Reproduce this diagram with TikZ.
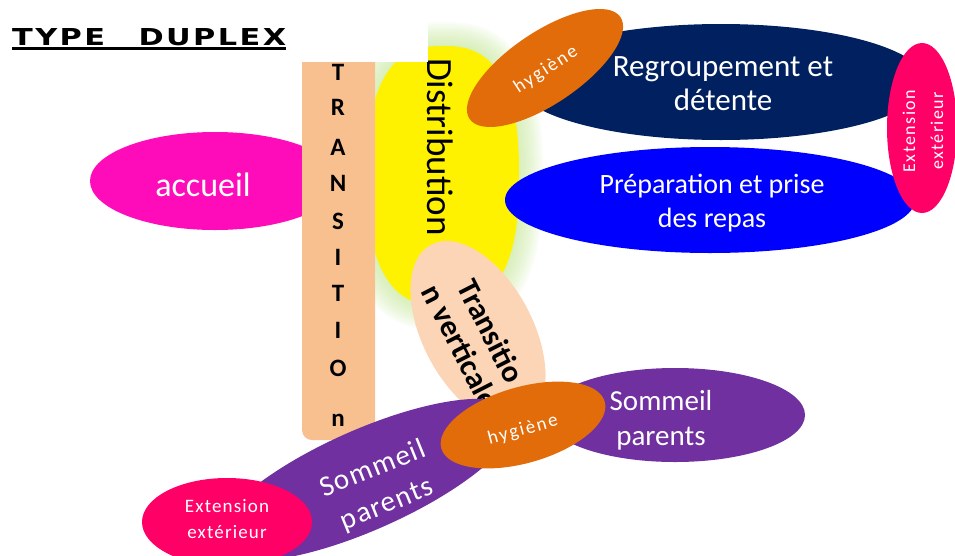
\documentclass[tikz,border=0pt]{standalone}
\usepackage{fontspec}
\setmainfont{Carlito}
\newfontfamily\titlefont{DejaVu Sans}
\usetikzlibrary{shapes.geometric}
\definecolor{peach}{RGB}{248,192,143}
\definecolor{peachlight}{RGB}{251,213,181}
\definecolor{glowgreen}{RGB}{196,230,150}
\definecolor{magentaA}{RGB}{255,12,186}
\definecolor{orangeH}{RGB}{227,108,10}
\definecolor{navyR}{RGB}{0,32,96}
\definecolor{blueP}{RGB}{0,0,255}
\definecolor{pinkE}{RGB}{255,0,102}
\definecolor{purpleS}{RGB}{112,48,160}
\tikzset{
  blob/.style={ellipse, inner sep=0pt, draw=none},
  wtext/.style={text=white, align=center, inner sep=0pt},
  btext/.style={text=black, align=center, inner sep=0pt},
}
\newcommand{\fsz}[2]{\fontsize{#1}{#2}\selectfont}
\begin{document}
\begin{tikzpicture}[x=1pt,y=-1pt]
\useasboundingbox (0,0) rectangle (955,555);
% glow around the distribution blob
\foreach \g in {24,22,...,2}{
  \fill[glowgreen, fill opacity=0.08] plot[domain=0.5:360.5, samples=101, variable=\t]
    ({443+(76+\g)*sign(cos(\t))*abs(cos(\t))^0.77},{176+(130+\g)*sign(sin(\t))*abs(sin(\t))^0.77}) -- cycle;
}
\fill[yellow] plot[domain=0.5:360.5, samples=101, variable=\t]
    ({443+76*sign(cos(\t))*abs(cos(\t))^0.77},{176+130*sign(sin(\t))*abs(sin(\t))^0.77}) -- cycle;

% accueil
\node[blob, fill=magentaA, minimum width=250, minimum height=98] (acc) at (215,181) {};
\node[wtext, font=\fsz{34}{34}] (acct) at (203,185) {accueil};

% transition bar
\node[fill=peach, rounded corners=10pt, minimum width=73, minimum height=390, inner sep=0pt] (trans) at (338.5,245) {};
\foreach \l/\yy [count=\i] in {T/72,R/107,A/147,N/183,S/221,I/257,T/293,I/330,O/368,n/420}{
  \node[btext, font=\bfseries\fsz{25}{25}] (tl\i) at (338,\yy) {\l};
}

% distribution
\node[btext, rotate=-90, anchor=base west, font=\fsz{37}{37}] (distr) at (427,58) {Distribution};

% transition verticale
\node[blob, fill=peachlight, minimum width=200, minimum height=110, rotate=-62] (tv) at (478,333) {};
\node[btext, rotate=-63, font=\bfseries\fsz{31}{34}] (tvt) at (476,339) {Transitio\\n verticale};

% regroupement
\node[blob, fill=navyR, minimum width=410, minimum height=116] (regr) at (721,82) {};
\node[wtext, font=\fsz{31}{34}] (regrt) at (723,84) {Regroupement et\\détente};

% preparation
\node[blob, fill=blueP, minimum width=410, minimum height=106] (prep) at (710,200) {};
\node[wtext, font=\fsz{28}{34}] (prept) at (712,203) {Préparation et prise\\des repas};

% hygiene top
\node[blob, fill=orangeH, minimum width=182, minimum height=72, rotate=34] (hyg1) at (545,68) {};
\node[wtext, rotate=33, font=\fsz{19}{19}\addfontfeature{LetterSpace=10}] (hyg1t) at (546,70) {hygiène};

% extension right
\node[blob, fill=pinkE, minimum width=70, minimum height=170] (ext1) at (922,128) {};
\node[wtext, rotate=90, font=\fsz{18}{28}\addfontfeature{LetterSpace=8}] (ext1t) at (923,131) {Extension\\extérieur};

% title area
\fill[white] (0,0) rectangle (428,62);
\node[anchor=south west, inner sep=0pt] (title) at (12,46)
  {\resizebox{274pt}{17pt}{\titlefont\bfseries\addfontfeature{LetterSpace=8}TYPE\hspace{1.1em}DUPLEX}};
\draw[line width=2.5pt] ([yshift=-2.5pt]title.south west) -- ([yshift=-2.5pt]title.south east);

% sommeil parents right
\node[blob, fill=purpleS, minimum width=260, minimum height=94] (sp1) at (675,415) {};
\node[wtext, font=\fsz{29}{35}] (sp1t) at (661,420) {Sommeil\\parents};

% sommeil parents left
\node[blob, fill=purpleS, minimum width=330, minimum height=100, rotate=24] (sp2) at (365,480) {};
\node[wtext, rotate=22, font=\fsz{29}{38}\addfontfeature{LetterSpace=5}] (sp2t) at (380,487) {Sommeil\\parents};

% hygiene bottom
\node[blob, fill=orangeH, minimum width=170, minimum height=76, rotate=16] (hyg2) at (523,425) {};
\node[wtext, rotate=15, font=\fsz{19}{19}\addfontfeature{LetterSpace=10}] (hyg2t) at (523,430) {hygiène};

% extension bottom left
\node[blob, fill=pinkE, minimum width=170, minimum height=88] (ext2) at (227,522) {};
\node[wtext, font=\fsz{19}{26}\addfontfeature{LetterSpace=6}] (ext2t) at (227,519) {Extension\\extérieur};
\end{tikzpicture}
\end{document}
